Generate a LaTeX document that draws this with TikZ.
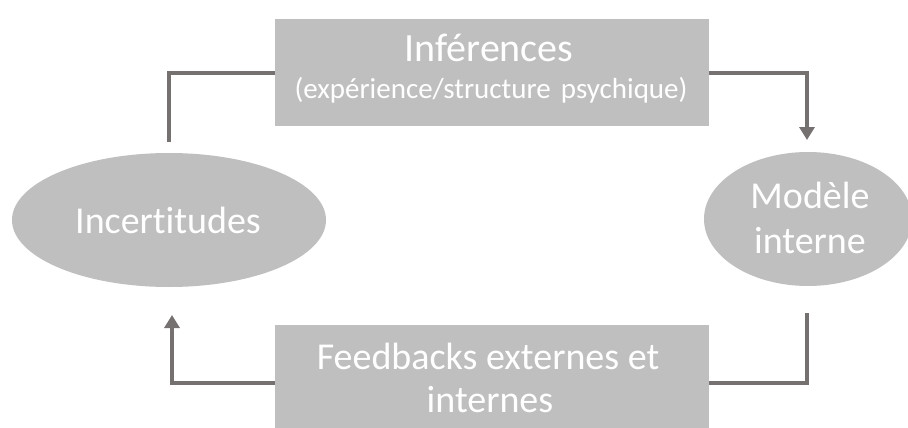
\documentclass[tikz,border=0pt]{standalone}
\usepackage{fontspec}
\setmainfont[Ligatures=NoCommon]{Carlito}
\usetikzlibrary{arrows.meta,shapes.geometric}
\definecolor{boxgray}{HTML}{BFBFBF}
\definecolor{linegray}{HTML}{767171}
\tikzset{
  blockbox/.style={fill=boxgray,draw=none,inner sep=0pt,text=white,align=center},
  ovalnode/.style={ellipse,fill=boxgray,draw=none,inner sep=0pt,text=white,align=center},
  txt/.style={text=white,anchor=base,inner sep=0pt,font=\fontsize{#1}{#1}\selectfont},
  link/.style={draw=linegray,line width=4pt},
  linkarrow/.style={link,-{Triangle[length=13pt,width=15pt]}}
}
\begin{document}
\begin{tikzpicture}[x=1pt,y=-1pt]
\useasboundingbox (0,0) rectangle (908,428);
\node[blockbox,minimum width=434pt,minimum height=107pt] (inf) at (492,72.5) {};
\node[txt=40] (inft) at (489,62) {Inférences};
\node[txt=29] (infs) at (491,99) {(expérience/structure\hspace{0.35em}psychique)};
\node[blockbox,minimum width=434pt,minimum height=110pt] (fb) at (492,380) {};
\node[txt=38] (fbt) at (488,369) {Feedbacks externes et};
\node[txt=38] (fbs) at (490,412) {internes};
\node[ovalnode,minimum width=314pt,minimum height=134pt] (inc) at (169,220) {};
\node[txt=38] (inct) at (168,233) {Incertitudes};
\node[ovalnode,minimum width=208pt,minimum height=134pt] (mod) at (808,219) {};
\node[txt=38] (modt) at (810,208) {Modèle};
\node[txt=38] (mods) at (810,253) {interne};
\coordinate (tl) at (169,142);
\coordinate (tr) at (807,140);
\coordinate (bl) at (172,315);
\coordinate (br) at (807,313);
\draw[link] (tl) -- (169,73) -- (inf.west |- 0,73);
\draw[linkarrow] (inf.east |- 0,73) -- (807,73) -- (tr);
\draw[link] (br) -- (807,383) -- (fb.east |- 0,383);
\draw[linkarrow] (fb.west |- 0,383) -- (172,383) -- (bl);
\end{tikzpicture}
\end{document}
